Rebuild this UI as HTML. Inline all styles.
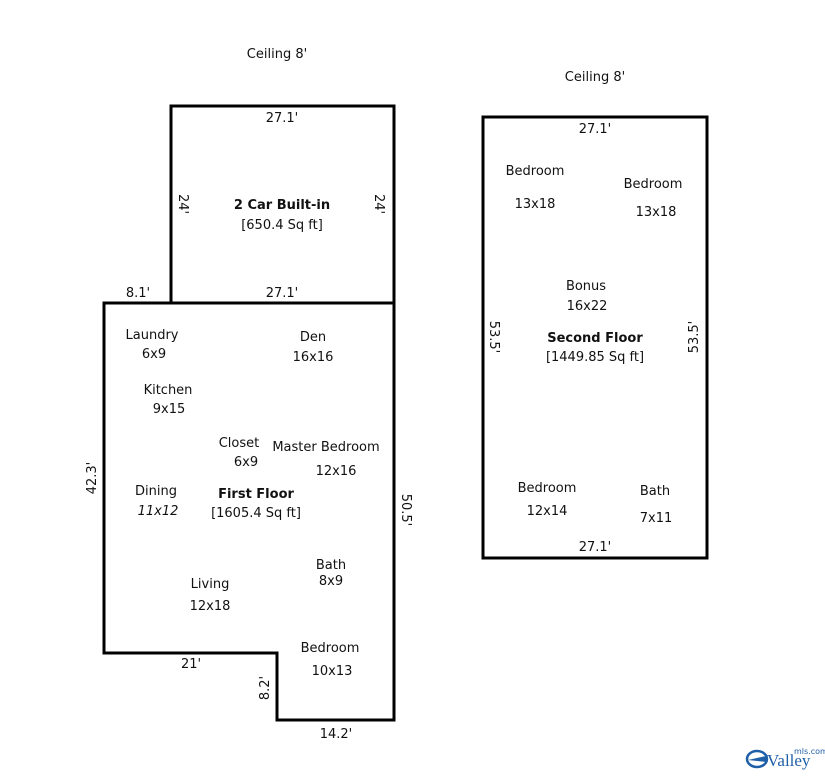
<!DOCTYPE html>
<html><head><style>
html,body{margin:0;padding:0;background:#fff;}
svg{display:block;}
text{font-family:"DejaVu Sans","Liberation Sans",sans-serif;font-size:13px;fill:#111;}
.b{font-weight:bold;}
</style></head><body>
<svg width="825" height="777" viewBox="0 0 825 777" xmlns="http://www.w3.org/2000/svg">
<g fill="none" stroke="#000" stroke-width="3">
<rect x="171" y="106" width="223" height="197"/>
<polygon points="104,303 394,303 394,720 277,720 277,653 104,653"/>
<rect x="483" y="117" width="224" height="441"/>
</g>
<g text-anchor="middle">
<text x="277" y="58">Ceiling 8'</text>
<text x="595" y="81">Ceiling 8'</text>
<text x="282" y="122">27.1'</text>
<text x="282" y="209" class="b">2 Car Built-in</text>
<text x="282" y="229">[650.4 Sq ft]</text>
<text x="138" y="297">8.1'</text>
<text x="282" y="297">27.1'</text>
<text x="152" y="339">Laundry</text>
<text x="154" y="358">6x9</text>
<text x="313" y="341">Den</text>
<text x="313" y="361">16x16</text>
<text x="168" y="394">Kitchen</text>
<text x="169" y="413">9x15</text>
<text x="239" y="447">Closet</text>
<text x="246" y="466">6x9</text>
<text x="326" y="451">Master Bedroom</text>
<text x="336" y="475">12x16</text>
<text x="156" y="495">Dining</text>
<text x="158" y="515" font-style="italic">11x12</text>
<text x="256" y="498" class="b">First Floor</text>
<text x="256" y="517">[1605.4 Sq ft]</text>
<text x="331" y="569">Bath</text>
<text x="331" y="585">8x9</text>
<text x="210" y="588">Living</text>
<text x="210" y="610">12x18</text>
<text x="330" y="652">Bedroom</text>
<text x="332" y="675">10x13</text>
<text x="191" y="668">21'</text>
<text x="336" y="738">14.2'</text>
<text x="595" y="133">27.1'</text>
<text x="535" y="175">Bedroom</text>
<text x="535" y="208">13x18</text>
<text x="653" y="188">Bedroom</text>
<text x="656" y="216">13x18</text>
<text x="586" y="290">Bonus</text>
<text x="587" y="310">16x22</text>
<text x="595" y="342" class="b">Second Floor</text>
<text x="595" y="361">[1449.85 Sq ft]</text>
<text x="547" y="492">Bedroom</text>
<text x="547" y="515">12x14</text>
<text x="655" y="495">Bath</text>
<text x="656" y="522">7x11</text>
<text x="595" y="551">27.1'</text>
<text transform="translate(179,204) rotate(90)">24'</text>
<text transform="translate(375,204) rotate(90)">24'</text>
<text transform="translate(96,478) rotate(-90)">42.3'</text>
<text transform="translate(402,510) rotate(90)">50.5'</text>
<text transform="translate(269,688) rotate(-90)">8.2'</text>
<text transform="translate(490,337) rotate(90)">53.5'</text>
<text transform="translate(698,337) rotate(-90)">53.5'</text>
</g>
<g>
<ellipse cx="757" cy="759" rx="10" ry="8" fill="none" stroke="#1f5fa8" stroke-width="2.5"/>
<path d="M748 760 L766 756 L766 762 Z" fill="#1f5fa8"/>
<text x="767" y="766" style="font-family:'Liberation Serif',serif;font-size:17px;fill:#1f5fa8">Valley</text>
<text x="794" y="754" style="font-size:8px;fill:#1f5fa8">mls.com</text>
</g>
</svg>
</body></html>
